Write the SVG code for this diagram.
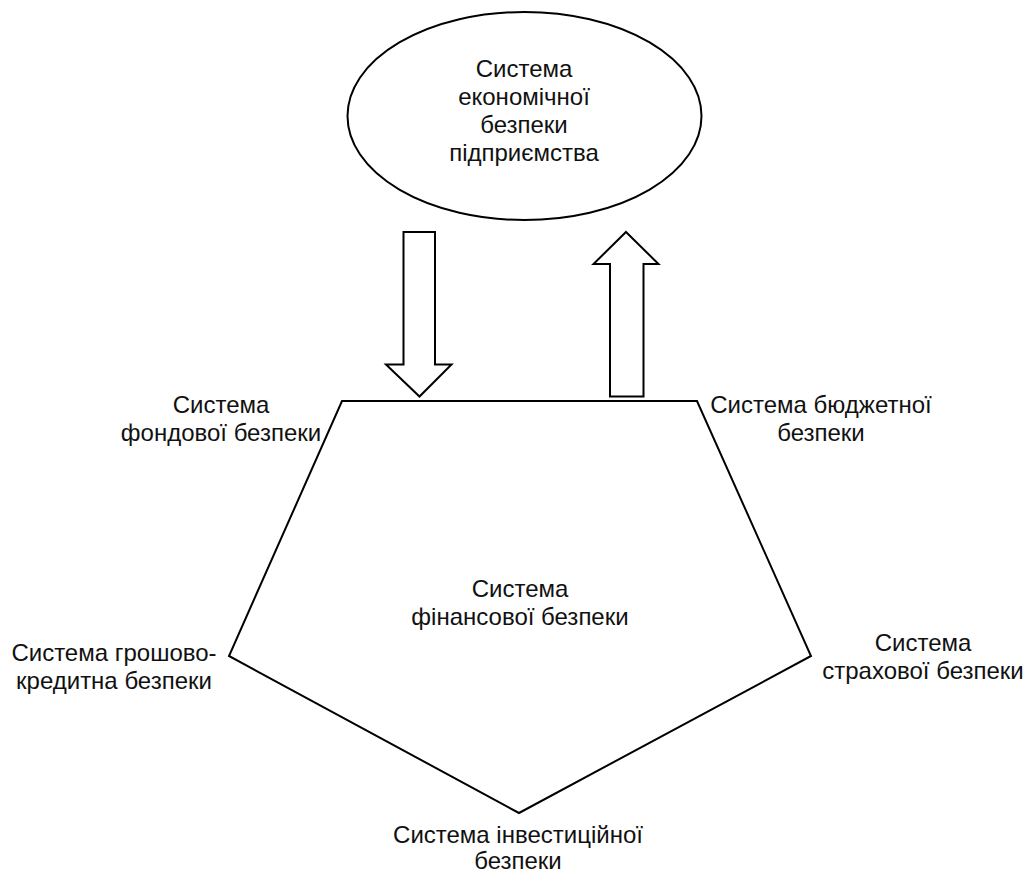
<svg xmlns="http://www.w3.org/2000/svg" width="1026" height="875" viewBox="0 0 1026 875">
<style>
.shape{fill:#ffffff;stroke:#000000;stroke-width:2;stroke-linejoin:miter}
.lbl{font-family:"Liberation Sans",Arial,sans-serif;font-size:24px;fill:#111111;text-anchor:middle}
</style>
<rect x="0" y="0" width="1026" height="875" fill="#ffffff"/>
<g id="pentagon">
<polygon class="shape" points="342,401 697,401 811,656 519,813 229,656"/>
<text class="lbl"><tspan x="520" y="597">Система</tspan><tspan x="520" y="625">фінансової безпеки</tspan></text>
</g>
<g id="ellipse-node">
<ellipse class="shape" cx="524.5" cy="116" rx="177" ry="104"/>
<text class="lbl"><tspan x="524" y="77">Система</tspan><tspan x="524" y="105">економічної</tspan><tspan x="524" y="133">безпеки</tspan><tspan x="524" y="161">підприємства</tspan></text>
</g>
<g id="connectors">
<polygon class="shape" points="403.5,232 435,232 435,364.5 451.5,364.5 419.5,396.5 386,364.5 403.5,364.5"/>
<polygon class="shape" points="626,232 658.5,264 643.5,264 643.5,396.5 610,396.5 610,264 593.5,264"/>
</g>
<g id="label-fondova">
<text class="lbl"><tspan x="221" y="413">Система</tspan><tspan x="221" y="441">фондової безпеки</tspan></text>
</g>
<g id="label-budzhetna">
<text class="lbl"><tspan x="821" y="413">Система бюджетної</tspan><tspan x="821" y="441">безпеки</tspan></text>
</g>
<g id="label-groshovo">
<text class="lbl"><tspan x="114" y="661">Система грошово-</tspan><tspan x="114" y="689">кредитна безпеки</tspan></text>
</g>
<g id="label-strakhova">
<text class="lbl"><tspan x="923" y="651">Система</tspan><tspan x="923" y="679">страхової безпеки</tspan></text>
</g>
<g id="label-investytsiina">
<text class="lbl"><tspan x="518" y="843">Система інвестиційної</tspan><tspan x="518" y="869">безпеки</tspan></text>
</g>
</svg>
